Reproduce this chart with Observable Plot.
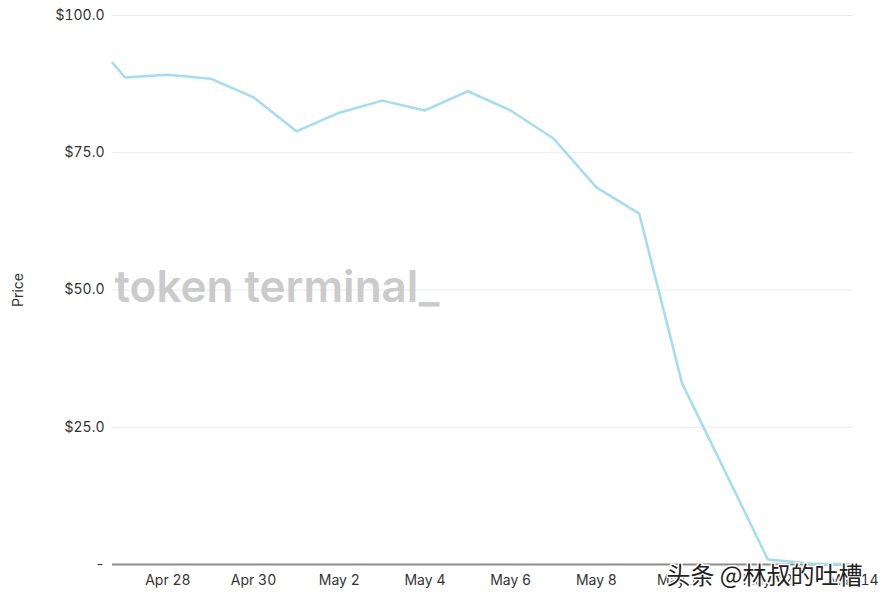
<!DOCTYPE html>
<html>
<head>
<meta charset="utf-8">
<script src="https://cdn.jsdelivr.net/npm/d3@7"></script>
<script src="https://cdn.jsdelivr.net/npm/@observablehq/plot@0.6"></script>
<style>
  html, body { margin: 0; padding: 0; background: #fff; }
  #chart { width: 881px; height: 605px; }
  svg { font-family: Inter, "Noto Sans", sans-serif; }
</style>
</head>
<body>
<div id="chart"></div>
<script>
const dates = [
  "2022-04-26T17:00Z", "2022-04-27", "2022-04-28", "2022-04-29", "2022-04-30",
  "2022-05-01", "2022-05-02", "2022-05-03", "2022-05-04", "2022-05-05",
  "2022-05-06", "2022-05-07", "2022-05-08", "2022-05-09", "2022-05-10",
  "2022-05-11", "2022-05-12", "2022-05-13", "2022-05-14"
];
const prices = [
  91.4, 88.7, 89.2, 88.5, 85.1,
  78.9, 82.3, 84.5, 82.7, 86.2,
  82.7, 77.6, 68.7, 63.9, 33.0,
  17.0, 0.9, 0.2, 0.05
];
const xTickDates = ["2022-04-28", "2022-04-30", "2022-05-02", "2022-05-04", "2022-05-06", "2022-05-08", "2022-05-10", "2022-05-12", "2022-05-14"];
const yTicks = [0, 25, 50, 75, 100];
const watermark = "token terminal_";
const sourceMark = "头条 @林叔的吐槽";

const data = dates.map((d, i) => ({date: new Date(d), price: prices[i]}));
const xTicks = xTickDates.map(d => new Date(d));
const fmtX = d3.utcFormat("%b %-d");

const chart = Plot.plot({
  width: 881,
  height: 605,
  marginLeft: 112,
  marginRight: 28,
  marginTop: 15,
  marginBottom: 41,
  style: {fontFamily: "Inter, 'Noto Sans', sans-serif", fontSize: "14px", color: "#333", background: "#fff"},
  x: {type: "utc", domain: [data[0].date, data[data.length - 1].date]},
  y: {domain: [0, 100]},
  marks: [
    Plot.gridY(yTicks, {stroke: "#ebebeb", strokeOpacity: 1, strokeWidth: 1}),
    Plot.text([watermark], {frameAnchor: "left", dx: 2, dy: -2, textAnchor: "start", fontSize: 44, fontWeight: 600, fill: "#c4c4c4", fillOpacity: 0.9}),
    Plot.axisY(yTicks, {tickSize: 0, tickPadding: 8, tickFormat: d => d === 0 ? "-" : "$" + d.toFixed(1), fontSize: 14, fill: "#333",
      label: "Price", labelAnchor: "center", labelArrow: "none", labelOffset: 99}),
    Plot.axisX(xTicks, {tickSize: 0, tickPadding: 11, tickFormat: fmtX, fontSize: 14, fill: "#333", label: null}),
    Plot.ruleY([0], {stroke: "#8c8c8c", strokeWidth: 2}),
    Plot.line(data, {x: "date", y: "price", stroke: "#a3ddf5", strokeWidth: 2.5, curve: "linear"}),
    Plot.text([sourceMark], {frameAnchor: "bottom-right", dx: 9, dy: 19, textAnchor: "end", fontSize: 24,
      fontFamily: "'Noto Sans CJK SC', sans-serif", fill: "#222", stroke: "#fff", strokeWidth: 3, paintOrder: "stroke"})
  ]
});
document.getElementById("chart").appendChild(chart);
</script>
</body>
</html>
